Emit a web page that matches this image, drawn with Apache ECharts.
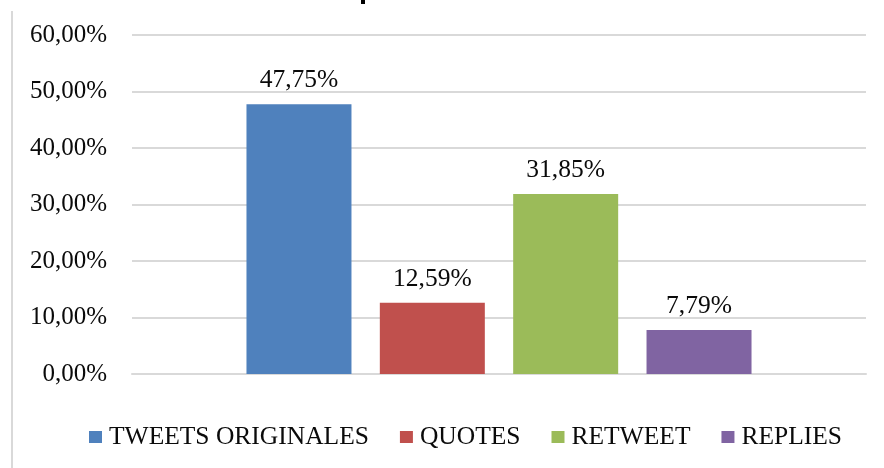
<!DOCTYPE html>
<html>
<head>
<meta charset="utf-8">
<script src="https://cdn.jsdelivr.net/npm/echarts@6/dist/echarts.min.js"></script>
<style>
html,body{margin:0;padding:0;background:#fff;}
#chart{width:884px;height:468px;}
</style>
</head>
<body>
<div id="chart"></div>
<script>
const categories = ['TWEETS ORIGINALES', 'QUOTES', 'RETWEET', 'REPLIES'];
const values = [47.75, 12.59, 31.85, 7.79];
const colors = ['#4F81BD', '#C0504D', '#9BBB59', '#8064A2'];
const yMin = 0, yMax = 60, yStep = 10;

const fmt = v => v.toFixed(2).replace('.', ',') + '%';
const FONT = '"Liberation Serif", "Times New Roman", serif';

const chart = echarts.init(document.getElementById('chart'));
chart.setOption({
  backgroundColor: '#fff',
  animation: false,
  grid: { left: 132, right: 18, top: 35, bottom: 94, containLabel: false },
  xAxis: {
    type: 'category',
    data: [''],
    axisLine: { show: true, lineStyle: { color: '#d9d9d9', width: 2 } },
    axisTick: { show: false },
    axisLabel: { show: false }
  },
  yAxis: {
    type: 'value',
    min: yMin, max: yMax, interval: yStep,
    axisLine: { show: false },
    axisTick: { show: false },
    splitLine: { lineStyle: { color: '#d9d9d9', width: 2 } },
    axisLabel: {
      formatter: fmt, margin: 25, color: '#0a0a0a',
      fontFamily: FONT, fontSize: 25
    }
  },
  legend: {
    left: 84, top: 419,
    icon: 'rect', itemWidth: 13, itemHeight: 12, itemGap: 31,
    textStyle: { fontFamily: FONT, fontSize: 25.5, color: '#0a0a0a', padding: [0, 0, 0, 2] },
    data: categories
  },
  graphic: [
    { type: 'line', shape: { x1: 12, y1: 11, x2: 12, y2: 468 }, style: { stroke: '#d9d9d9', lineWidth: 2 } },
    { type: 'rect', shape: { x: 361, y: 0, width: 4, height: 4 }, style: { fill: '#000' } }
  ],
  series: categories.map((c, i) => ({
    name: c,
    type: 'bar',
    data: [values[i]],
    barWidth: 105,
    barGap: '27%',
    itemStyle: { color: colors[i] },
    label: {
      show: true, position: 'top', distance: 11,
      formatter: p => fmt(p.value),
      fontFamily: FONT, fontSize: 25.5, color: '#0a0a0a'
    }
  }))
});
</script>
</body>
</html>
